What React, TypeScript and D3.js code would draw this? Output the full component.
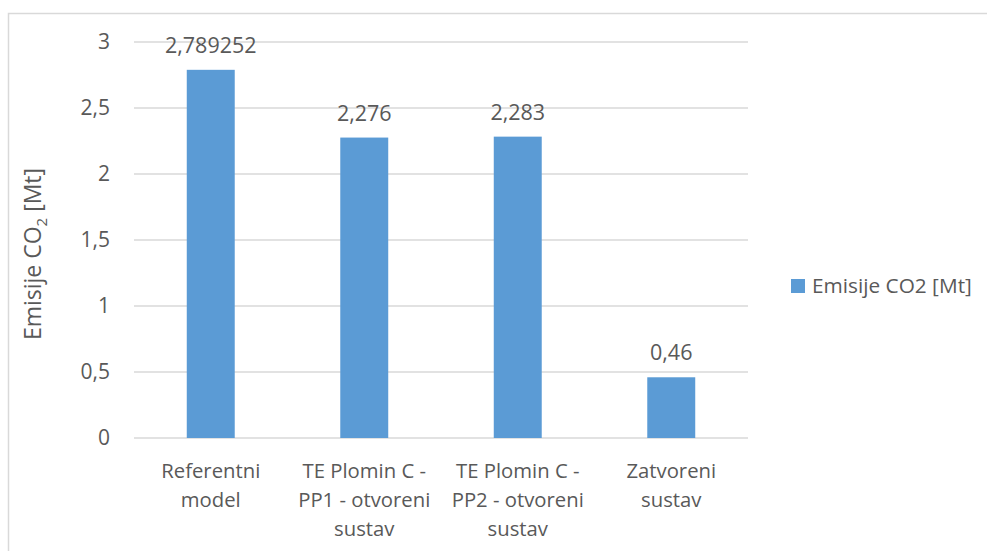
import React from "react";
import * as d3 from "d3";

const categories: string[][] = [
  ["Referentni", "model"],
  ["TE Plomin C -", "PP1 - otvoreni", "sustav"],
  ["TE Plomin C -", "PP2 - otvoreni", "sustav"],
  ["Zatvoreni", "sustav"],
];
const values: number[] = [2.789252, 2.276, 2.283, 0.46];
const valueLabels: string[] = ["2,789252", "2,276", "2,283", "0,46"];
const yTicks: number[] = [0, 0.5, 1, 1.5, 2, 2.5, 3];
const seriesName = "Emisije CO2 [Mt]";

const W = 987;
const H = 551;
const FONT = "'Open Sans', sans-serif";
const TEXT = "#595959";
const BAR = "#5b9bd5";
const GRID = "#d9d9d9";

export default function App() {
  const left = 134;
  const right = 748;
  const top = 42;
  const bottom = 438;
  const x = d3
    .scaleBand<number>()
    .domain(categories.map((_, i) => i))
    .range([left, right])
    .paddingInner(0.6875)
    .paddingOuter(0.34375);
  const y = d3.scaleLinear().domain([0, 3]).range([bottom, top]);
  const fmt = (v: number) => String(v).replace(".", ",");

  return (
    <svg
      width={W}
      height={H}
      style={{ position: "absolute", left: 0, top: 0, display: "block" }}
    >
      <rect x={0} y={0} width={W} height={H} fill="#fff" />
      <rect
        x={8.5}
        y={13.5}
        width={W + 10}
        height={H + 10}
        fill="none"
        stroke={GRID}
        strokeWidth={1.5}
      />
      {yTicks.map((t) => (
        <g key={t}>
          <line
            x1={left}
            x2={right}
            y1={y(t)}
            y2={y(t)}
            stroke={GRID}
            strokeWidth={1.3}
          />
          <text
            x={110}
            y={y(t)}
            dy="0.35em"
            textAnchor="end"
            fontFamily={FONT}
            fontSize={21}
            fill={TEXT}
          >
            {fmt(t)}
          </text>
        </g>
      ))}
      {values.map((v, i) => (
        <g key={i}>
          <rect
            x={x(i)}
            y={y(v)}
            width={x.bandwidth()}
            height={y(0) - y(v)}
            fill={BAR}
          />
          <text
            x={(x(i) as number) + x.bandwidth() / 2}
            y={y(v) - 17}
            textAnchor="middle"
            fontFamily={FONT}
            fontSize={21.5}
            fill={TEXT}
          >
            {valueLabels[i]}
          </text>
          {categories[i].map((line, j) => (
            <text
              key={j}
              x={(x(i) as number) + x.bandwidth() / 2}
              y={478 + j * 29}
              textAnchor="middle"
              fontFamily={FONT}
              fontSize={20.3}
              fill={TEXT}
            >
              {line}
            </text>
          ))}
        </g>
      ))}
      <text
        transform={`translate(41, ${(top + bottom) / 2 + 14}) rotate(-90)`}
        textAnchor="middle"
        fontFamily={FONT}
        fontSize={23}
        fill={TEXT}
      >
        Emisije CO
        <tspan fontSize={15} dy={6}>
          2
        </tspan>
        <tspan dy={-6}> [Mt]</tspan>
      </text>
      <rect x={791} y={279} width={14} height={14} fill={BAR} />
      <text
        x={812}
        y={286}
        dy="0.35em"
        fontFamily={FONT}
        fontSize={20.8}
        fill={TEXT}
      >
        {seriesName}
      </text>
    </svg>
  );
}
